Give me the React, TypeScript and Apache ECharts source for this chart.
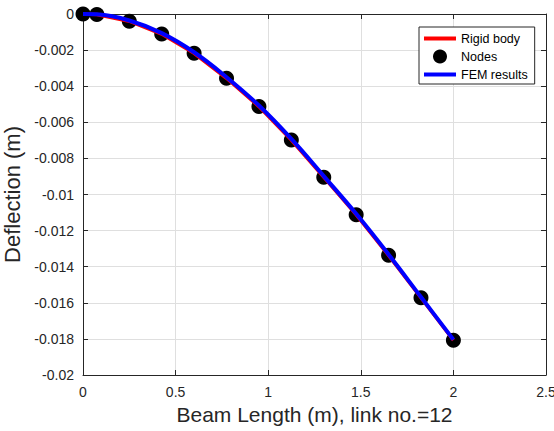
import React, { useEffect, useRef } from "react";
import * as echarts from "echarts";

// Node positions along the beam (m) and their deflections (m)
const nodeX = [0, 0.075, 0.25, 0.425, 0.6, 0.775, 0.95, 1.125, 1.3, 1.475, 1.65, 1.825, 2.0];
const nodeY = [0, -0.00003, -0.0004, -0.00111, -0.00218, -0.00356, -0.00513, -0.00698, -0.00904, -0.01112, -0.01337, -0.01572, -0.01807];
// Rigid body model (polyline through the nodes)
const rigidX = [0, 0.075, 0.25, 0.425, 0.6, 0.775, 0.95, 1.125, 1.3, 1.475, 1.65, 1.825, 2.0];
const rigidY = [0, -0.00003, -0.0004, -0.00111, -0.00218, -0.00356, -0.00513, -0.00698, -0.00904, -0.01112, -0.01337, -0.01572, -0.01807];
// FEM results (smooth curve, lies a hair above the rigid-body chords)
const femX = [0, 0.075, 0.25, 0.425, 0.6, 0.775, 0.95, 1.125, 1.3, 1.475, 1.65, 1.825, 2.0];
const femY = [0, -0.00002, -0.00036, -0.00106, -0.00212, -0.00350, -0.00507, -0.00692, -0.00898, -0.01107, -0.01332, -0.01568, -0.01804];

const xTicks = [0, 0.5, 1, 1.5, 2, 2.5];
const yTicks = [-0.02, -0.018, -0.016, -0.014, -0.012, -0.01, -0.008, -0.006, -0.004, -0.002, 0];

const seriesNames = ["Rigid body", "Nodes", "FEM results"];
const xTitle = "Beam Length (m), link no.=12";
const yTitle = "Deflection (m)";

const FONT = "'Liberation Sans', Arial, Helvetica, sans-serif";
const AX = "#262626";
const LINE_ICON = "path://M0,0 L32,0 L32,4 L0,4 Z";

export default function App() {
  const ref = useRef<HTMLDivElement>(null);
  useEffect(() => {
    document.body.style.margin = "0";
    const chart = echarts.init(ref.current!, null, { renderer: "svg" });
    const fmt = (v: number) => String(+v.toFixed(4));
    const xInterval = xTicks[1] - xTicks[0];
    const yInterval = +(yTicks[1] - yTicks[0]).toFixed(4);
    const baseX = {
      type: "value" as const,
      min: xTicks[0],
      max: xTicks[xTicks.length - 1],
      interval: xInterval,
    };
    const baseY = {
      type: "value" as const,
      min: yTicks[0],
      max: yTicks[yTicks.length - 1],
      interval: yInterval,
    };
    chart.setOption({
      animation: false,
      textStyle: { fontFamily: FONT },
      grid: {
        left: 83,
        right: 8,
        top: 14,
        bottom: 56,
        containLabel: false,
        outerBoundsMode: "none",
      },
      legend: {
        orient: "vertical",
        left: 419,
        top: 27,
        padding: [5, 7, 3, 5],
        itemWidth: 32,
        itemHeight: 14,
        itemGap: 4.5,
        backgroundColor: "#fff",
        borderColor: AX,
        borderWidth: 1,
        borderRadius: 0,
        textStyle: { fontFamily: FONT, fontSize: 12.5, color: "#000" },
        data: [
          { name: seriesNames[0], icon: LINE_ICON, itemStyle: { color: "#ff0000" } },
          { name: seriesNames[1], icon: "circle", itemStyle: { color: "#000" } },
          { name: seriesNames[2], icon: LINE_ICON, itemStyle: { color: "#0000ff" } },
        ],
      },
      xAxis: [
        {
          ...baseX,
          position: "bottom",
          name: xTitle,
          nameLocation: "middle",
          nameGap: 25,
          nameTextStyle: { fontFamily: FONT, fontSize: 21, color: AX },
          axisLine: { show: true, onZero: false, lineStyle: { color: AX, width: 1 } },
          axisTick: { show: true, inside: true, length: 5, lineStyle: { color: AX } },
          axisLabel: { margin: 10, fontSize: 14, color: AX, fontFamily: FONT, formatter: fmt },
          splitLine: { show: true, lineStyle: { color: "#dfdfdf", width: 1 } },
        },
        {
          ...baseX,
          position: "top",
          axisLine: { show: true, onZero: false, lineStyle: { color: AX, width: 1 } },
          axisTick: { show: true, inside: true, length: 5, lineStyle: { color: AX } },
          axisLabel: { show: false },
          splitLine: { show: false },
        },
      ],
      yAxis: [
        {
          ...baseY,
          position: "left",
          name: yTitle,
          nameLocation: "middle",
          nameGap: 45,
          nameTextStyle: { fontFamily: FONT, fontSize: 22, color: AX },
          axisLine: { show: true, onZero: false, lineStyle: { color: AX, width: 1 } },
          axisTick: { show: true, inside: true, length: 5, lineStyle: { color: AX } },
          axisLabel: { margin: 9, fontSize: 14, color: AX, fontFamily: FONT, formatter: fmt },
          splitLine: { show: true, lineStyle: { color: "#dfdfdf", width: 1 } },
        },
        {
          ...baseY,
          position: "right",
          axisLine: { show: true, onZero: false, lineStyle: { color: AX, width: 1 } },
          axisTick: { show: true, inside: true, length: 5, lineStyle: { color: AX } },
          axisLabel: { show: false },
          splitLine: { show: false },
        },
      ],
      series: [
        {
          name: seriesNames[0],
          type: "line",
          data: rigidX.map((x, i) => [x, rigidY[i]]),
          symbol: "none",
          showSymbol: false,
          lineStyle: { color: "#ff0000", width: 3.5 },
          itemStyle: { color: "#ff0000" },
        },
        {
          name: seriesNames[1],
          type: "scatter",
          data: nodeX.map((x, i) => [x, nodeY[i]]),
          symbol: "circle",
          symbolSize: 15,
          itemStyle: { color: "#000", opacity: 1 },
        },
        {
          name: seriesNames[2],
          type: "line",
          data: femX.map((x, i) => [x, femY[i]]),
          symbol: "none",
          showSymbol: false,
          smooth: 0.4,
          lineStyle: { color: "#0000ff", width: 4 },
          itemStyle: { color: "#0000ff" },
        },
      ],
    });
    return () => chart.dispose();
  }, []);
  return <div ref={ref} style={{ width: 554, height: 431, background: "#fff" }} />;
}
